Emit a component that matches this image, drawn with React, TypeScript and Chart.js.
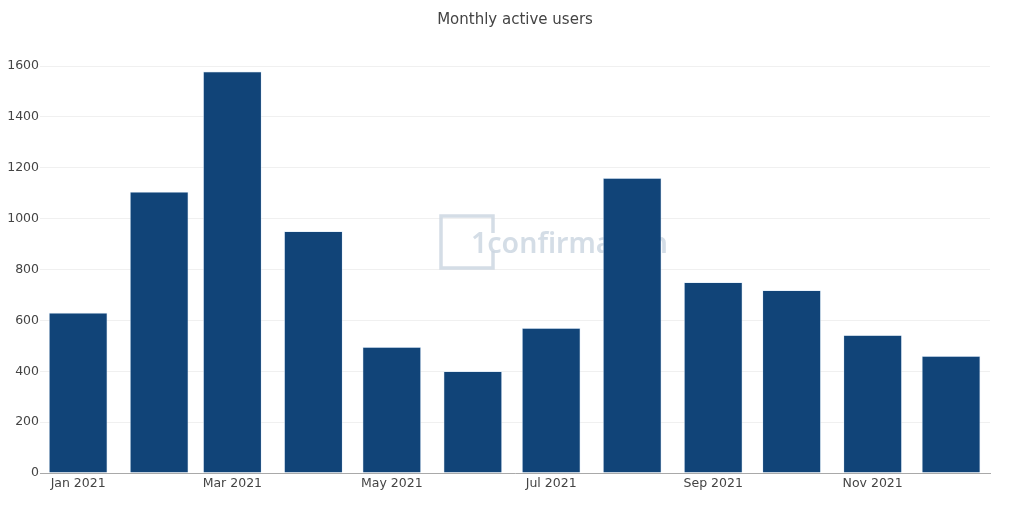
import React, { useEffect, useRef } from "react";
import { Chart, registerables } from "chart.js";

Chart.register(...registerables);

const title = "Monthly active users";
const monthLabels = ["Jan 2021", "Feb 2021", "Mar 2021", "Apr 2021", "May 2021", "Jun 2021", "Jul 2021", "Aug 2021", "Sep 2021", "Oct 2021", "Nov 2021", "Dec 2021"];
const monthDayOffsets = [0, 31, 59, 90, 120, 151, 181, 212, 243, 273, 304, 334];
const activeUsers = [630, 1105, 1578, 950, 495, 400, 570, 1160, 750, 718, 542, 460];
const xTickMonths = [0, 2, 4, 6, 8, 10];
const yTicks = [0, 200, 400, 600, 800, 1000, 1200, 1400, 1600];
const watermarkText = "1confirmation";

const FONT = "'DejaVu Sans', Verdana, sans-serif";

const watermarkPlugin = {
  id: "watermark",
  beforeDatasetsDraw(chart: any) {
    const { ctx, chartArea } = chart;
    const cx = (chartArea.left + chartArea.right) / 2;
    const cy = (chartArea.top + chartArea.bottom) / 2;
    ctx.save();
    const col = "rgba(204,215,226,0.85)";
    ctx.strokeStyle = col;
    ctx.lineWidth = 3.5;
    const bx = cx - 74;
    const by = cy - 46;
    const s = 52;
    ctx.beginPath();
    ctx.moveTo(bx + s, by + 17);
    ctx.lineTo(bx + s, by);
    ctx.lineTo(bx, by);
    ctx.lineTo(bx, by + s);
    ctx.lineTo(bx + s, by + s);
    ctx.lineTo(bx + s, by + s - 17);
    ctx.stroke();
    ctx.fillStyle = col;
    ctx.font = "600 28.5px 'Noto Sans', sans-serif";
    ctx.textBaseline = "middle";
    ctx.textAlign = "left";
    ctx.fillText(watermarkText, bx + 30, by + 29);
    ctx.restore();
  },
};

export default function App() {
  const ref = useRef<HTMLCanvasElement>(null);

  useEffect(() => {
    if (!ref.current) return;
    const data = activeUsers.map((v, i) => ({ x: monthDayOffsets[i], y: v }));
    const chart = new Chart(ref.current, {
      type: "bar",
      data: {
        datasets: [
          {
            label: title,
            data: data as any,
            backgroundColor: "#114478",
            borderColor: "rgba(215,232,248,0.9)",
            borderWidth: 0.7,
            barPercentage: 1,
            categoryPercentage: 0.8,
            yAxisID: "y",
          },
        ],
      },
      options: {
        animation: false,
        responsive: false,
        devicePixelRatio: 1,
        layout: { padding: 0 },
        plugins: {
          legend: { display: false },
          tooltip: { enabled: false },
          title: {
            display: true,
            text: title,
            color: "#444",
            font: { family: FONT, size: 15, weight: "normal" },
            padding: { top: 11, bottom: 22 },
          },
        },
        scales: {
          x: {
            type: "linear",
            min: -14.6,
            max: 348.9,
            offset: false,
            grid: { display: false },
            border: { display: true, color: "#a9a9a9", width: 1 },
            afterBuildTicks(scale: any) {
              scale.ticks = xTickMonths.map((m) => ({ value: monthDayOffsets[m] }));
            },
            afterFit(scale: any) {
              scale.height = 42;
            },
            ticks: {
              color: "#444",
              font: { family: FONT, size: 12.5 },
              padding: -5,
              maxRotation: 0,
              autoSkip: false,
              callback: (value: any) => {
                const idx = monthDayOffsets.indexOf(Number(value));
                return idx >= 0 ? monthLabels[idx] : "";
              },
            },
          },
          y: {
            min: 0,
            max: 1659,
            grid: { color: "#f0f0f0", drawTicks: false, lineWidth: 1 },
            border: { display: false },
            afterBuildTicks(scale: any) {
              scale.ticks = yTicks.map((v) => ({ value: v }));
            },
            afterFit(scale: any) {
              scale.width = 40;
            },
            ticks: {
              color: "#444",
              font: { family: FONT, size: 12.5 },
              padding: 1,
              callback: (value: any) => String(value),
            },
          },
          yRight: {
            position: "right",
            min: 0,
            max: 1659,
            grid: { display: false },
            border: { display: false },
            ticks: { display: false },
            afterFit(scale: any) {
              scale.width = 40;
            },
          },
        },
      },
      plugins: [watermarkPlugin],
    });
    return () => chart.destroy();
  }, []);

  return (
    <div style={{ position: "fixed", left: 0, top: 0, width: 1030, height: 515, background: "#fff" }}>
      <canvas ref={ref} width={1030} height={515} style={{ width: 1030, height: 515 }} />
    </div>
  );
}
